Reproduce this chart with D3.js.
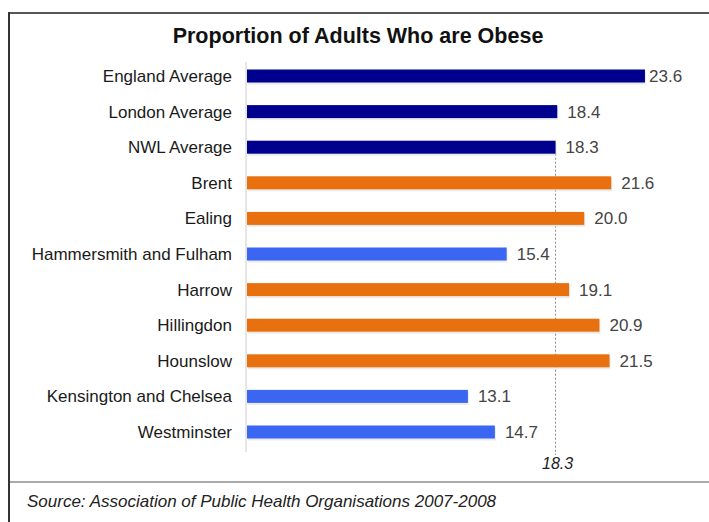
<!DOCTYPE html>
<html>
<head>
<meta charset="utf-8">
<script src="https://cdn.jsdelivr.net/npm/d3@7"></script>
<style>
  body { margin: 0; background: #fff; }
  svg { display: block; }
</style>
</head>
<body>
<svg width="709" height="522"></svg>
<script>
/* data */
var categories = ["England Average", "London Average", "NWL Average", "Brent", "Ealing",
    "Hammersmith and Fulham", "Harrow", "Hillingdon", "Hounslow",
    "Kensington and Chelsea", "Westminster"]
var values = [23.6, 18.4, 18.3, 21.6, 20.0, 15.4, 19.1, 20.9, 21.5, 13.1, 14.7]
var groups = ["avg", "avg", "avg", "high", "high", "low", "high", "high", "high", "low", "low"]
var refValue = 18.3
var refLabel = "18.3"
var title = "Proportion of Adults Who are Obese"
var source = "Source: Association of Public Health Organisations 2007-2008"

var colors = { avg: "#00008f", high: "#e8700f", low: "#3a66f2" }

/* layout */
var bar_height = 13
var font = "Liberation Sans, Arial, sans-serif"
var x = d3.scaleLinear().domain([0, 24]).range([247, 651.7])
var y = d3.scalePoint().domain(categories).range([76, 432])

var svg = d3.select("svg")

/* frame */
svg.append("line")
    .attr("x1", 9).attr("x2", 709).attr("y1", 13).attr("y2", 13)
    .attr("stroke", "#555").attr("stroke-width", 2)
svg.append("line")
    .attr("x1", 9).attr("x2", 9).attr("y1", 12).attr("y2", 522)
    .attr("stroke", "#333").attr("stroke-width", 2)
svg.append("line")
    .attr("x1", 10).attr("x2", 709).attr("y1", 482).attr("y2", 482)
    .attr("stroke", "#aaa").attr("stroke-width", 2)

/* title */
svg.append("text")
    .text(title)
    .attr("x", 358).attr("y", 43)
    .attr("text-anchor", "middle")
    .attr("font-family", font)
    .attr("font-weight", "bold")
    .attr("font-size", 21.5)
    .attr("fill", "#111")

/* axis line */
svg.append("line")
    .attr("x1", x(0) - 1).attr("x2", x(0) - 1)
    .attr("y1", 62).attr("y2", 452)
    .attr("stroke", "#ccc").attr("stroke-width", 1)

/* reference line */
svg.append("line")
    .attr("x1", x(refValue)).attr("x2", x(refValue))
    .attr("y1", y("NWL Average") + bar_height / 2).attr("y2", 455)
    .attr("stroke", "#888").attr("stroke-width", 1)
    .attr("stroke-dasharray", "2,2")
svg.append("text")
    .text(refLabel)
    .attr("x", x(refValue) + 2).attr("y", 469)
    .attr("text-anchor", "middle")
    .attr("font-family", font)
    .attr("font-style", "italic")
    .attr("font-size", 16)
    .attr("fill", "#222")

var rows = categories.map(function(c, i) {
    return { name: c, value: values[i], group: groups[i] }
})

/* shadow under bars */
svg.append("g")
    .selectAll("rect")
    .data(rows)
    .enter()
    .append("rect")
    .attr("x", x(0) + 1)
    .attr("y", function(d) { return y(d.name) - bar_height / 2 + 2 })
    .attr("width", function(d) { return x(d.value) - x(0) })
    .attr("height", bar_height)
    .attr("fill", "#ddd")
    .attr("opacity", 0.6)

/* bars */
svg.append("g")
    .selectAll("rect")
    .data(rows)
    .enter()
    .append("rect")
    .attr("x", x(0))
    .attr("y", function(d) { return y(d.name) - bar_height / 2 })
    .attr("width", function(d) { return x(d.value) - x(0) })
    .attr("height", bar_height)
    .attr("fill", function(d) { return colors[d.group] })

/* category labels */
svg.append("g")
    .selectAll("text")
    .data(rows)
    .enter()
    .append("text")
    .text(function(d) { return d.name })
    .attr("x", 232)
    .attr("y", function(d) { return y(d.name) + 6 })
    .attr("text-anchor", "end")
    .attr("font-family", font)
    .attr("font-size", 17)
    .attr("fill", "#1a1a1a")

/* value labels */
svg.append("g")
    .selectAll("text")
    .data(rows)
    .enter()
    .append("text")
    .text(function(d) { return d.value.toFixed(1) })
    .attr("x", function(d) { return Math.min(x(d.value) + 10, 649) })
    .attr("y", function(d) { return y(d.name) + 6 })
    .attr("font-family", font)
    .attr("font-size", 17)
    .attr("fill", "#444")

/* source */
svg.append("text")
    .text(source)
    .attr("x", 27).attr("y", 507)
    .attr("font-family", font)
    .attr("font-style", "italic")
    .attr("font-size", 17)
    .attr("fill", "#222")
</script>
</body>
</html>
